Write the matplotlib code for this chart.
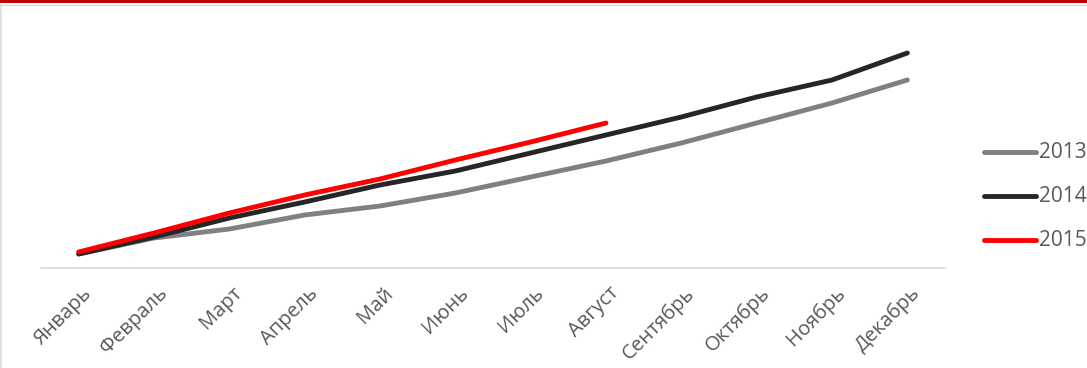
import matplotlib
matplotlib.use("Agg")
import matplotlib.pyplot as plt
import matplotlib.transforms as mtransforms
from matplotlib.lines import Line2D
from matplotlib.patches import Rectangle

plt.rcParams['font.family'] = ['Open Sans', 'DejaVu Sans']

months = ['Январь', 'Февраль', 'Март', 'Апрель', 'Май', 'Июнь',
          'Июль', 'Август', 'Сентябрь', 'Октябрь', 'Ноябрь', 'Декабрь']
y2013 = [14, 30, 39, 53, 62, 75, 91, 107, 125, 145, 165, 188]
y2014 = [14, 31, 50, 66, 83, 97, 115, 133, 151, 171, 188, 215]
y2015 = [16, 35, 55, 73, 89, 108, 126, 145]

series = [('2013', y2013, '#808080'),
          ('2014', y2014, '#262626'),
          ('2015', y2015, '#FF0000')]

W, H = 1087, 368
fig = plt.figure(figsize=(W / 100, H / 100), dpi=100)

# plot area: x 41..945 px, baseline at y=268 px
ax = fig.add_axes([41 / W, 1 - 268 / H, (945 - 41) / W, (268 - 20) / H])
for name, vals, col in series:
    ax.plot(range(len(vals)), vals, color=col, lw=3.5,
            solid_capstyle='round', solid_joinstyle='round', label=name)

ax.set_xlim(-0.5, len(months) - 0.5)
ax.set_ylim(0, 248)
ax.set_xticks(range(len(months)))
ax.set_xticklabels(months, rotation=45, ha='right', rotation_mode='anchor',
                   fontsize=14.5, color='#595959')
ax.tick_params(axis='x', length=0, pad=11)
shift = mtransforms.ScaledTranslation(3 / 100, 0, fig.dpi_scale_trans)
for lab in ax.get_xticklabels():
    lab.set_transform(lab.get_transform() + shift)
ax.set_yticks([])
for side in ['top', 'right', 'left']:
    ax.spines[side].set_visible(False)
ax.spines['bottom'].set_color('#D9D9D9')
ax.spines['bottom'].set_linewidth(1.2)

# legend on the right, partly cut off by the figure edge
for i, (name, vals, col) in enumerate(series):
    yy = 1 - (152 + 44 * i) / H
    fig.add_artist(Line2D([984 / W, 1036 / W], [yy, yy], color=col, lw=3.5,
                          solid_capstyle='round', transform=fig.transFigure))
    fig.text(1039 / W, yy, name, fontsize=15, color='#595959',
             va='center', ha='left')

# frame bits from the screenshot
fig.add_artist(Rectangle((0, 1 - 3 / H), 1, 3 / H, color='#C00000',
                         transform=fig.transFigure, lw=0))
fig.add_artist(Line2D([0, 1], [1 - 5 / H, 1 - 5 / H], color='#D9D9D9', lw=1,
                      transform=fig.transFigure))
fig.add_artist(Line2D([0.5 / W, 0.5 / W], [0, 1 - 5 / H], color='#D9D9D9', lw=1.2,
                      transform=fig.transFigure))

fig.savefig('out.png', dpi=100)
